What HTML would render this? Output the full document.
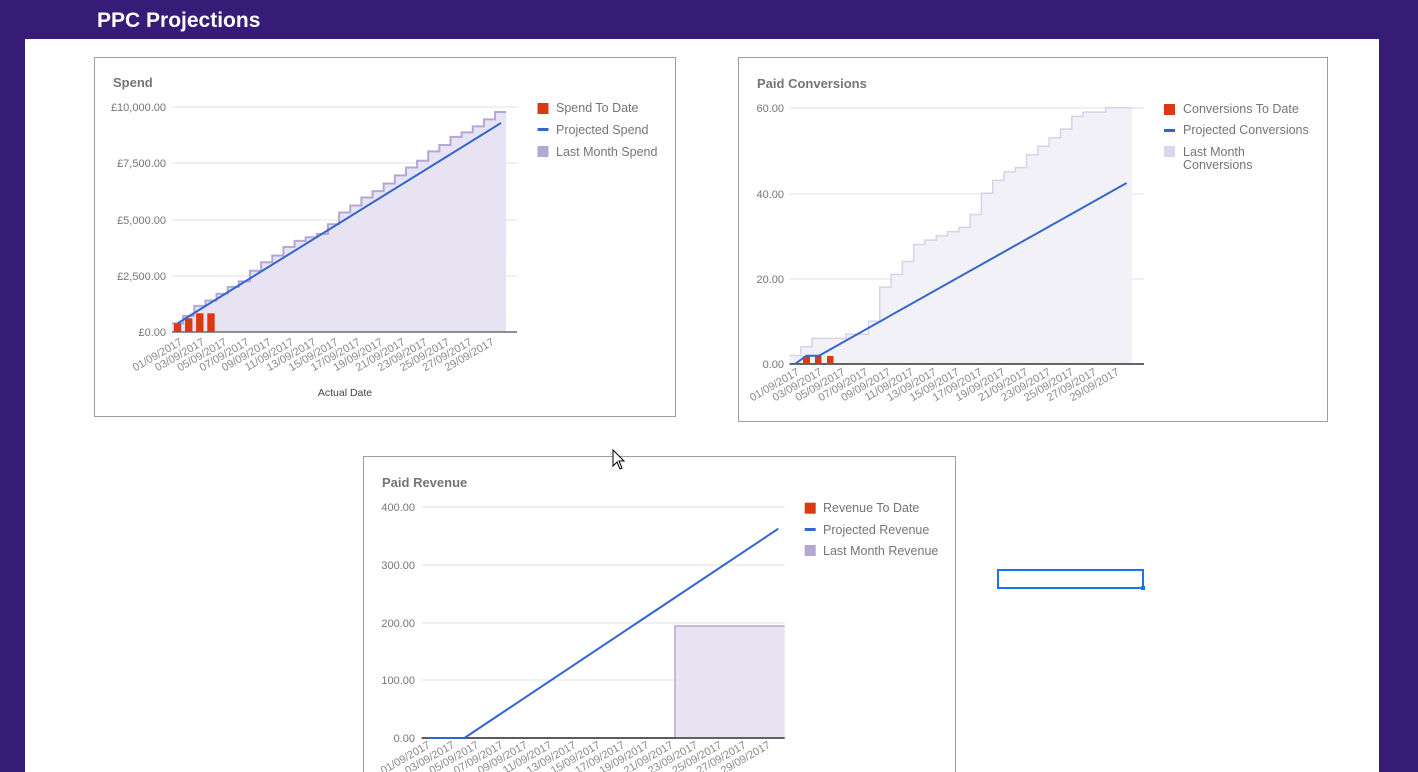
<!DOCTYPE html>
<html><head><meta charset="utf-8"><style>
html,body{margin:0;padding:0;width:1418px;height:772px;overflow:hidden;background:#361b77;}
svg{display:block;font-family:"Liberation Sans",Arial,sans-serif;}
</style></head><body>
<svg id="s" width="1418" height="772" xmlns="http://www.w3.org/2000/svg">
<rect x="0" y="0" width="1418" height="772" fill="#361b77"/>
<rect x="25" y="39" width="1354" height="733" fill="#ffffff"/>
<text x="97" y="27" fill="#fff" font-size="21" font-weight="bold">PPC Projections</text>
<rect x="94.5" y="57.5" width="581" height="359" fill="#fff" stroke="#9e9e9e"/>
<rect x="738.5" y="57.5" width="589" height="364" fill="#fff" stroke="#9e9e9e"/>
<rect x="363.5" y="456.5" width="592" height="330" fill="#fff" stroke="#9e9e9e"/>
<text x="113" y="87" fill="#757575" font-size="13" font-weight="bold">Spend</text>
<text x="757" y="88" fill="#757575" font-size="13" font-weight="bold">Paid Conversions</text>
<text x="382" y="487" fill="#757575" font-size="13" font-weight="bold">Paid Revenue</text>
<g id="g"></g>
<rect x="998" y="570" width="145" height="18" fill="none" stroke="#1a73e8" stroke-width="2"/>
<rect x="1141" y="586" width="4" height="4" fill="#1a73e8"/>
<path d="M613 450 L613 466 L617 462 L620 469 L622 468 L619 461 L624 461 Z" fill="#fff" stroke="#000" stroke-width="1"/>
</svg>
<script>
var g=document.getElementById('g'),h='';
function T(x,y,t,o){o=o||{};h+='<text x="'+x+'" y="'+y+'" fill="'+(o.c||'#757575')+'" font-size="'+(o.s||11)+'"'+(o.a?' text-anchor="'+o.a+'"':'')+(o.r?' transform="rotate('+o.r+' '+x+' '+y+')"':'')+'>'+t+'</text>';}
function L(x1,y1,x2,y2,c,w){h+='<line x1="'+x1+'" y1="'+y1+'" x2="'+x2+'" y2="'+y2+'" stroke="'+c+'" stroke-width="'+(w||1)+'"/>';}
function R(x,y,w,hh,c){h+='<rect x="'+x+'" y="'+y+'" width="'+w+'" height="'+hh+'" fill="'+c+'"/>';}
function dates(x0,step,y){for(var d=1;d<=29;d+=2){var s=(d<10?'0':'')+d+'/09/2017';T(x0+(d-1)/2*step,y,s,{a:'end',r:-30,s:11,c:'#8a8a8a'});}}
// ---------- Spend
var gy=[[107,'£10,000.00'],[163,'£7,500.00'],[220,'£5,000.00'],[276,'£2,500.00']];
gy.forEach(function(a){L(172,a[0],517,a[0],'#e0e0e0');T(166,a[0]+4,a[1],{a:'end'});});
var sv=[385,710,1160,1400,1700,2000,2250,2720,3100,3400,3780,4050,4210,4360,4790,5310,5620,5980,6260,6600,6960,7310,7610,8030,8310,8670,8870,9140,9450,9780];
function sy(v){return 332-v*0.0225;}
var p='M172 332',sw=11.14;
sv.forEach(function(v,i){var x=172+i*sw;p+=' L'+x+' '+sy(v)+' L'+(x+sw)+' '+sy(v);});
var line=p.substring(p.indexOf('L')+1);
h+='<path d="'+p+' L506 332 Z" fill="#e7e3f3"/>';
h+='<path d="M'+line+'" fill="none" stroke="#b4a7d6" stroke-width="2"/>';
L(172,332,517,332,'#6d6d6d',1.5);
T(166,336,'£0.00',{a:'end'});
[[177.5,385],[188.7,610],[199.8,830],[211,830]].forEach(function(b){R(b[0]-3.7,sy(b[1]),7.4,332-sy(b[1]),'#dc3912');});
L(177.5,sy(385),501,sy(9290),'#3366cc',2);
dates(183,22.28,344);
T(345,396,'Actual Date',{a:'middle',s:10.5,c:'#444'});
R(537.5,103,11,11,'#dc3912');T(556,112,'Spend To Date',{s:12.5});
R(537.5,128,11,3,'#3366cc');T(556,134,'Projected Spend',{s:12.5});
R(537.5,146,11,11,'#b4a7d6');T(556,156,'Last Month Spend',{s:12.5});
// ---------- Conversions
[[108,'60.00'],[194,'40.00'],[279,'20.00']].forEach(function(a){L(789.5,a[0],1144,a[0],'#e0e0e0');T(784,a[0]+4,a[1],{a:'end'});});
var cv=[2,4,6,6,6,7,7,10,18,21,24,28,29,30,31,32,35,40,43,45,46,49,51,53,55,58,59,59,60,60];
function cy(v){return 364-v*4.27;}
p='M789.5 364';var cw=11.29;
cv.forEach(function(v,i){var x=789.5+i*cw,x2=(i==29)?1132:x+cw;p+=' L'+x+' '+cy(v)+' L'+x2+' '+cy(v);});
line=p.substring(p.indexOf('L')+1);
h+='<path d="'+p+' L1132 364 Z" fill="#f3f1f8"/>';
h+='<path d="M'+line+'" fill="none" stroke="#d8d1ea" stroke-width="1.5"/>';
L(789.5,364,1144,364,'#333',1.5);
T(784,368,'0.00',{a:'end'});
R(803,356,7,8,'#dc3912');R(815,356,6.5,8,'#dc3912');R(827,356,6.5,8,'#dc3912');
h+='<polyline points="795,364 806.5,355.7 819,355.7 1126.6,183" fill="none" stroke="#3366cc" stroke-width="2"/>';
dates(800,22.86,374);
R(1164,104,11,11,'#dc3912');T(1183,113,'Conversions To Date',{s:12.5});
R(1164,129,11,3,'#3366cc');T(1183,134,'Projected Conversions',{s:12.5});
R(1164,146,11,11,'#dcd6ec');T(1183,156,'Last Month',{s:12.5});T(1183,169,'Conversions',{s:12.5});
// ---------- Revenue
[[507,'400.00'],[565,'300.00'],[623,'200.00'],[680,'100.00']].forEach(function(a){L(421.6,a[0],784.7,a[0],'#e0e0e0');T(415,a[0]+4,a[1],{a:'end'});});
R(675,626,109.7,112,'#e8e4f3');
h+='<polyline points="421.6,738 675,738 675,626 784.7,626" fill="none" stroke="#b4a7d6" stroke-width="1.5"/>';
L(421.6,738,784.7,738,'#333',1.5);
T(415,742,'0.00',{a:'end'});
h+='<polyline points="427,738 464.4,738 778.3,528.7" fill="none" stroke="#3366cc" stroke-width="2"/>';
dates(431,24.3,747);
R(804.7,502.7,11,11,'#dc3912');T(823,512,'Revenue To Date',{s:12.5});
R(804.7,528,11,3,'#3366cc');T(823,534,'Projected Revenue',{s:12.5});
R(804.7,545,11,11,'#b4a7d6');T(823,555,'Last Month Revenue',{s:12.5});
g.innerHTML=h;
</script>
</body></html>
